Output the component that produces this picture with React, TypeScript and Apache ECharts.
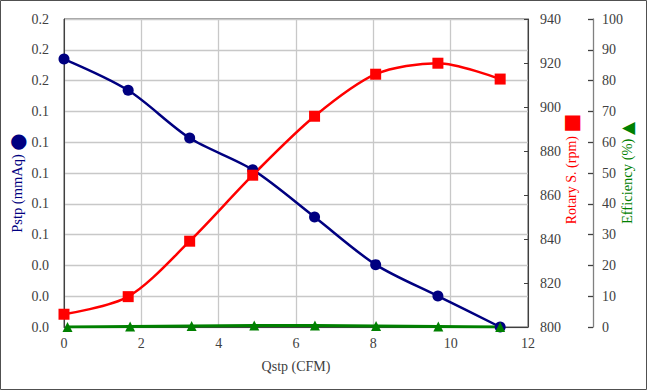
import React, { useEffect, useRef } from "react";
import * as echarts from "echarts";

const qstp = [0, 1.66, 3.25, 4.88, 6.48, 8.06, 9.67, 11.28];
const qstpEff = [0.09, 1.71, 3.3, 4.92, 6.49, 8.07, 9.68, 11.28];
const pstp = [0.174, 0.1537, 0.1227, 0.1021, 0.0714, 0.0405, 0.0201, 0.0];
const rotary = [805.8, 813.8, 839.0, 869.0, 895.8, 914.9, 919.9, 912.7];
const efficiency = [0.0, 0.2, 0.35, 0.45, 0.45, 0.35, 0.2, 0.0];

const FONT = "'Liberation Serif', 'Times New Roman', serif";
const TICK_COLOR = "#404040";

export default function App() {
  const ref = useRef<HTMLDivElement>(null);
  useEffect(() => {
    document.body.style.margin = "0";
    const chart = echarts.init(ref.current!, null, { renderer: "svg" });
    const pair = (xs: number[], ys: number[]) => xs.map((x, i) => [x, ys[i]]);
    chart.setOption({
      animation: false,
      backgroundColor: "#ffffff",
      textStyle: { fontFamily: FONT },
      grid: {
        left: 64,
        right: 119,
        top: 19,
        bottom: 63,
        containLabel: false,
        outerBoundsMode: "none",
        show: true,
        borderColor: "#404040",
        borderWidth: 1,
        backgroundColor: "transparent",
      },
      graphic: [
        {
          type: "rect",
          shape: { x: 0.5, y: 0.5, width: 646, height: 389 },
          style: { fill: "none", stroke: "#505050", lineWidth: 1 },
          silent: true,
        },
      ],
      xAxis: {
        type: "value",
        min: 0,
        max: 12,
        interval: 2,
        name: "Qstp (CFM)",
        nameLocation: "middle",
        nameGap: 32,
        nameMoveOverlap: false,
        nameTextStyle: { color: TICK_COLOR, fontSize: 14, fontFamily: FONT },
        axisLine: { show: true, lineStyle: { color: "#404040" } },
        axisTick: { show: false },
        axisLabel: { color: TICK_COLOR, fontSize: 14, fontFamily: FONT, margin: 9 },
        splitLine: { show: true, lineStyle: { color: "#c8c8c8", width: 1.3 } },
      },
      yAxis: [
        {
          type: "value",
          position: "left",
          min: 0,
          max: 0.2,
          interval: 0.02,
          name: "Pstp (mmAq) {c|●}",
          nameLocation: "middle",
          nameGap: 37,
          nameMoveOverlap: false,
          nameRotate: 90,
          nameTextStyle: {
            color: "#000080",
            fontSize: 14.5,
            fontFamily: FONT,
            padding: [0, 20, 0, 0],
            rich: { c: { fontSize: 20, color: "#000080", fontFamily: "DejaVu Sans" } },
          },
          axisLine: { show: true, lineStyle: { color: "#404040" } },
          axisTick: { show: false },
          axisLabel: {
            color: TICK_COLOR,
            fontSize: 14,
            fontFamily: FONT,
            margin: 15,
            formatter: (v: number) => v.toFixed(1),
          },
          splitLine: { show: true, lineStyle: { color: "#c8c8c8", width: 1.3 } },
        },
        {
          type: "value",
          position: "right",
          min: 800,
          max: 940,
          interval: 20,
          name: "Rotary S. (rpm) {s|■}",
          nameLocation: "middle",
          nameGap: 33,
          nameMoveOverlap: false,
          nameRotate: 90,
          nameTextStyle: {
            color: "#ff0000",
            fontSize: 14,
            fontFamily: FONT,
            padding: [0, 0, 0, 8],
            rich: { s: { fontSize: 20, color: "#ff0000", fontFamily: "DejaVu Sans" } },
          },
          axisLine: { show: true, lineStyle: { color: "#404040" } },
          axisTick: { show: true, inside: true, length: 4, lineStyle: { color: "#404040" } },
          axisLabel: { color: TICK_COLOR, fontSize: 14, fontFamily: FONT, margin: 12 },
          splitLine: { show: false },
        },
        {
          type: "value",
          position: "right",
          offset: 65,
          min: 0,
          max: 100,
          interval: 10,
          name: "Efficiency (%) {t|▲}",
          nameLocation: "middle",
          nameGap: 25,
          nameMoveOverlap: false,
          nameRotate: 90,
          nameTextStyle: {
            color: "#008000",
            fontSize: 14.5,
            fontFamily: FONT,
            rich: { t: { fontSize: 17, color: "#008000", fontFamily: "DejaVu Sans" } },
          },
          axisLine: { show: true, lineStyle: { color: "#808080", width: 1.3 } },
          axisTick: { show: true, inside: true, length: 5, lineStyle: { color: "#404040", width: 1.3 } },
          axisLabel: { color: TICK_COLOR, fontSize: 14, fontFamily: FONT, margin: 9 },
          splitLine: { show: false },
        },
      ],
      series: [
        {
          name: "Pstp",
          type: "line",
          yAxisIndex: 0,
          data: pair(qstp, pstp),
          smooth: 0.3,
          symbol: "circle",
          symbolSize: 11,
          lineStyle: { color: "#000080", width: 2.5 },
          itemStyle: { color: "#000080" },
        },
        {
          name: "Rotary S.",
          type: "line",
          yAxisIndex: 1,
          data: pair(qstp, rotary),
          smooth: 0.3,
          symbol: "rect",
          symbolSize: 11,
          lineStyle: { color: "#ff0000", width: 2.5 },
          itemStyle: { color: "#ff0000" },
        },
        {
          name: "Efficiency",
          type: "line",
          yAxisIndex: 2,
          data: pair(qstpEff, efficiency),
          smooth: 0.3,
          symbol: "triangle",
          symbolSize: 10,
          lineStyle: { color: "#008000", width: 3 },
          itemStyle: { color: "#008000" },
        },
      ],
    });
    return () => chart.dispose();
  }, []);
  return <div ref={ref} style={{ width: 647, height: 390 }} />;
}
